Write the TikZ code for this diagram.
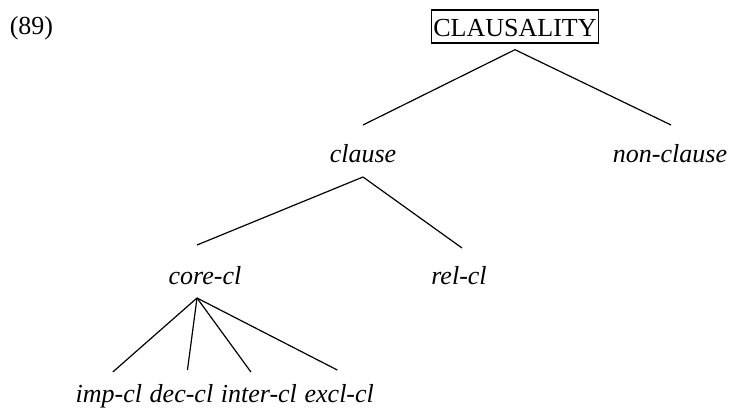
\documentclass[tikz,border=0pt]{standalone}
\usepackage{fontspec}
\setmainfont{Liberation Serif}
\usetikzlibrary{positioning}

\begin{document}
\begin{tikzpicture}[x=1pt, y=-1pt, line width=1.2pt,
    every node/.style={font=\fontsize{26}{31}\selectfont, inner sep=0pt},
    cat/.style={font=\fontsize{26}{31}\selectfont\itshape},
    rootbox/.style={draw, line width=1.4pt, inner xsep=2pt, inner ysep=4pt,
      text height=23pt, text depth=2pt}]

  %% ==== labels ====
  \node[anchor=base] (exnum) at (31.5,35) {(89)};
  \node[rootbox, anchor=base] (top) at (515,37) {CLAUSALITY};
  \node[cat, anchor=base] (clause) at (363,163) {clause};
  \node[cat, anchor=base] (nonclause) at (670,163) {non-clause};
  \node[cat, anchor=base] (corecl) at (205,285) {core-cl};
  \node[cat, anchor=base] (relcl) at (459,285) {rel-cl};
  % leaves in one row
  \node[cat, anchor=base west] (impcl) at (75,403) {imp-cl};
  \node[cat, base right=6.5pt of impcl] (deccl) {dec-cl};
  \node[cat, base right=6.5pt of deccl] (intercl) {inter-cl};
  \node[cat, base right=6.5pt of intercl] (exclcl) {excl-cl};

  %% ==== branches ====
  \draw ([yshift=-6pt]top.south) -- ([yshift=38pt]clause.base);
  \draw ([yshift=-6pt]top.south) -- ([xshift=1pt,yshift=38pt]nonclause.base);
  \draw ([yshift=-14pt]clause.base) -- ([xshift=-8pt,yshift=40pt]corecl.base);
  \draw ([yshift=-14pt]clause.base) -- ([xshift=3pt,yshift=37pt]relcl.base);
  \draw ([xshift=-8pt,yshift=-13pt]corecl.base) -- ([xshift=4pt,yshift=31pt]impcl.base);
  \draw ([xshift=-8pt,yshift=-13pt]corecl.base) -- ([xshift=6pt,yshift=33pt]deccl.base);
  \draw ([xshift=-8pt,yshift=-13pt]corecl.base) -- ([xshift=-8pt,yshift=31pt]intercl.base);
  \draw ([xshift=-8pt,yshift=-13pt]corecl.base) -- ([xshift=-2pt,yshift=33pt]exclcl.base);

  \pgfresetboundingbox
  \path[use as bounding box] (0,0) rectangle (732,414);
\end{tikzpicture}
\end{document}
